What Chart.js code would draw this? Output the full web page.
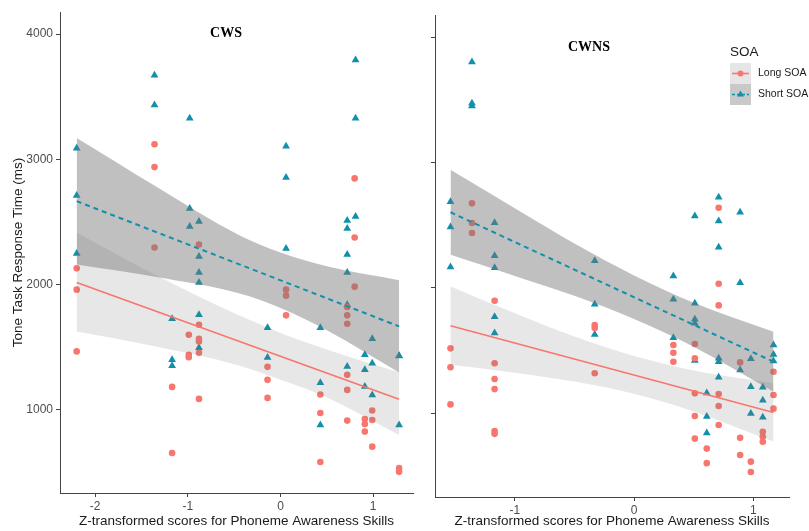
<!DOCTYPE html>
<html>
<head>
<meta charset="utf-8">
<script src="https://cdn.jsdelivr.net/npm/chart.js@4.4.0/dist/chart.umd.min.js"></script>
<style>
  body { margin: 0; background: #fff; }
  #wrap { position: relative; width: 809px; height: 531px; }
  canvas { position: absolute; top: 0; }
</style>
</head>
<body>
<div id="wrap">
  <canvas id="chart-cws" width="425" height="531" style="left:0"></canvas>
  <canvas id="chart-cwns" width="384" height="531" style="left:425px"></canvas>
</div>
<script>
// tick labels
const yTicks = [1000, 2000, 3000, 4000];
const cwsXTicks = [-2, -1, 0, 1];
const cwnsXTicks = [-1, 0, 1];
const seriesNames = ['Long SOA', 'Short SOA'];

// CWS panel: [z score, response time]
const cwsLong = [
  [-2.2,2130],[-2.2,1960],[-2.2,1467],
  [-1.36,3120],[-1.36,2938],[-1.36,2296],
  [-1.17,1184],[-1.17,656],
  [-0.99,1600],[-0.99,1440],[-0.99,1420],
  [-0.88,2320],[-0.88,1680],[-0.88,1568],[-0.88,1546],[-0.88,1456],[-0.88,1088],
  [-0.14,1344],[-0.14,1240],[-0.14,1096],
  [0.06,1960],[0.06,1912],[0.06,1755],
  [0.43,1123],[0.43,976],[0.43,584],
  [0.72,1822],[0.72,1755],[0.72,1688],[0.72,1280],[0.72,1160],[0.72,915],
  [0.80,2848],[0.80,2376],[0.80,1984],
  [0.91,928],[0.91,888],[0.91,827],
  [0.99,995],[0.99,920],[0.99,707],
  [1.28,536],[1.28,506]
];
const cwsShort = [
  [-2.2,3088],[-2.2,2712],[-2.2,2248],
  [-1.36,3672],[-1.36,3434],
  [-1.17,1728],[-1.17,1400],[-1.17,1352],
  [-0.98,3328],[-0.98,2608],[-0.98,2464],
  [-0.88,2504],[-0.88,2224],[-0.88,2096],[-0.88,2018],[-0.88,1760],[-0.88,1496],
  [-0.14,1656],[-0.14,1419],
  [0.06,3104],[0.06,2856],[0.06,2288],
  [0.43,1656],[0.43,1216],[0.43,880],
  [0.72,2512],[0.72,2448],[0.72,2240],[0.72,2096],[0.72,1840],[0.72,1347],
  [0.81,3792],[0.81,3328],[0.81,2544],
  [0.91,1440],[0.91,1320],[0.91,1187],
  [0.99,1568],[0.99,1373],[0.99,1120],
  [1.28,1432],[1.28,1430],[1.28,880]
];
// fitted lines and confidence bands (CWS)
const cwsFitX = [-2.2, 1.28];
const cwsLongFit = [2018, 1085];
const cwsShortFit = [2666, 1667];
const cwsBandX = [-2.2, -1.37, -0.45, 0, 0.5, 1.28];
const cwsShortUpper = [3170, 2795, 2397, 2256, 2146, 2035];
const cwsShortLower = [2160, 2065, 1931, 1814, 1636, 1299];
const cwsLongUpper = [2416, 2085, 1755, 1615, 1483, 1300];
const cwsLongLower = [1626, 1510, 1355, 1240, 1100, 800];

// CWNS panel
const cwnsLong = [
  [-1.54,1516],[-1.54,1365],[-1.54,1069],
  [-1.36,2673],[-1.36,2516],[-1.36,2436],
  [-1.17,1896],[-1.17,1397],[-1.17,1271],[-1.17,1191],[-1.17,856],[-1.17,834],
  [-0.33,1702],[-0.33,1678],[-0.33,1317],
  [0.33,1543],[0.33,1481],[0.33,1409],
  [0.51,1551],[0.51,1437],[0.51,1157],[0.51,976],[0.51,796],
  [0.61,716],[0.61,600],
  [0.71,2638],[0.71,2032],[0.71,1859],[0.71,1152],[0.71,1056],[0.71,904],
  [0.89,1404],[0.89,802],[0.89,665],
  [0.98,612],[0.98,530],
  [1.08,851],[1.08,811],[1.08,771],
  [1.17,1330],[1.17,1144],[1.17,1035]
];
const cwnsShort = [
  [-1.54,2686],[-1.54,2484],[-1.54,2165],
  [-1.36,3801],[-1.36,3471],[-1.36,3450],
  [-1.17,2519],[-1.17,2255],[-1.17,2160],[-1.17,1768],[-1.17,1638],
  [-0.33,2216],[-0.33,1868],[-0.33,1626],
  [0.33,2094],[0.33,1907],[0.33,1600],
  [0.51,2573],[0.51,1875],[0.51,1748],[0.51,1716],[0.51,1420],
  [0.61,1160],[0.61,973],[0.61,840],
  [0.71,2721],[0.71,2532],[0.71,2322],[0.71,1437],[0.71,1409],[0.71,1286],
  [0.89,2602],[0.89,2040],[0.89,1343],
  [0.98,1434],[0.98,1210],[0.98,997],
  [1.08,1206],[1.08,1101],[1.08,967],
  [1.17,1543],[1.17,1468],[1.17,1415]
];
const cwnsFitX = [-1.54, 1.17];
const cwnsLongFit = [1697, 1005];
const cwnsShortFit = [2602, 1409];
const cwnsBandX = [-1.54, -1, -0.5, 0, 0.5, 1.17];
const cwnsShortUpper = [2942, 2634, 2353, 2098, 1880, 1649];
const cwnsShortLower = [2262, 2094, 1935, 1750, 1528, 1169];
const cwnsLongUpper = [2009, 1796, 1611, 1455, 1340, 1238];
const cwnsLongLower = [1385, 1322, 1251, 1153, 1012, 772];

const SALMON = '#F8766D';
const TEAL = '#1190AB';
const SHORT_BAND = 'rgba(115,115,115,0.45)';
const LONG_BAND = 'rgba(115,115,115,0.17)';
const AXIS = '#444';

Chart.defaults.font.family = "'Liberation Sans', Arial, sans-serif";

function xy(xs, ys) { return xs.map((x, i) => ({ x: x, y: ys[i] })); }
function pts(a) { return a.map(p => ({ x: p[0], y: p[1] })); }

function panelDatasets(longPts, shortPts, fitX, longFit, shortFit, bandX, sUp, sLo, lUp, lLo) {
  const band = { type: 'line', borderWidth: 0, pointRadius: 0, cubicInterpolationMode: 'monotone', order: 1 };
  return [
    { type: 'line', label: seriesNames[1], data: xy(fitX, shortFit), borderColor: TEAL, borderWidth: 2,
      borderDash: [5, 4], pointRadius: 0, fill: false, order: 0 },
    { type: 'line', label: seriesNames[0], data: xy(fitX, longFit), borderColor: SALMON, borderWidth: 1.6,
      pointRadius: 0, fill: false, order: 0 },
    Object.assign({ data: xy(bandX, sUp), fill: '+1', backgroundColor: SHORT_BAND }, band),
    Object.assign({ data: xy(bandX, sLo), fill: false }, band),
    Object.assign({ data: xy(bandX, lUp), fill: '+1', backgroundColor: LONG_BAND }, band),
    Object.assign({ data: xy(bandX, lLo), fill: false }, band),
    { type: 'scatter', label: seriesNames[0], data: pts(longPts), pointStyle: 'circle', pointRadius: 3.3,
      backgroundColor: SALMON, borderWidth: 0, order: 2 },
    { type: 'scatter', label: seriesNames[1], data: pts(shortPts), pointStyle: 'triangle', pointRadius: 4.5,
      backgroundColor: TEAL, borderWidth: 0, order: 2 }
  ];
}

// draws panel title and (optionally) the SOA legend
const panelText = {
  id: 'panelText',
  afterDraw(chart, args, opts) {
    const ctx = chart.ctx;
    ctx.save();
    ctx.fillStyle = '#000';
    ctx.font = "bold 14px 'Liberation Serif', 'Times New Roman', serif";
    ctx.textAlign = 'center';
    ctx.textBaseline = 'middle';
    ctx.fillText(opts.title, opts.titleX, opts.titleY);
    if (opts.legend) {
      const lx = opts.legendX, ly = opts.legendY;
      ctx.textAlign = 'left';
      ctx.fillStyle = '#1a1a1a';
      ctx.font = "13.5px 'Liberation Sans', Arial, sans-serif";
      ctx.fillText('SOA', lx, ly);
      const keys = [
        { bg: '#e6e6e6', color: SALMON, dash: [], style: 'circle' },
        { bg: '#c9c9c9', color: TEAL, dash: [3, 2], style: 'triangle' }
      ];
      keys.forEach((k, i) => {
        const top = ly + 11 + i * 21;
        ctx.fillStyle = k.bg;
        ctx.fillRect(lx, top, 21, 21);
        const cy = top + 10.5;
        ctx.strokeStyle = k.color;
        ctx.lineWidth = 1.6;
        ctx.setLineDash(k.dash);
        ctx.beginPath();
        ctx.moveTo(lx + 2, cy);
        ctx.lineTo(lx + 19, cy);
        ctx.stroke();
        ctx.setLineDash([]);
        ctx.fillStyle = k.color;
        Chart.helpers.drawPoint(ctx, { pointStyle: k.style, radius: k.style === 'circle' ? 3 : 4, rotation: 0, borderWidth: 0 }, lx + 10.5, cy);
        ctx.fillStyle = '#1a1a1a';
        ctx.font = "10.5px 'Liberation Sans', Arial, sans-serif";
        ctx.fillText(seriesNames[i], lx + 28, cy);
      });
    }
    ctx.restore();
  }
};

function axisX(min, max, tickList, height) {
  return {
    type: 'linear', min: min, max: max,
    afterBuildTicks: s => { s.ticks = tickList.map(v => ({ value: v })); },
    afterFit: s => { s.height = height; },
    grid: { drawOnChartArea: false, tickLength: 4, color: AXIS },
    border: { color: AXIS, width: 1 },
    ticks: { color: '#4d4d4d', font: { size: 12 }, padding: 2, maxRotation: 0, callback: v => String(v) },
    title: { display: true, text: 'Z-transformed scores for Phoneme Awareness Skills', color: '#1a1a1a',
      font: { size: 13.5 }, padding: { top: 2, bottom: 2 } }
  };
}

function axisY(min, max, width, showLabels) {
  return {
    type: 'linear', min: min, max: max,
    afterBuildTicks: s => { s.ticks = yTicks.map(v => ({ value: v })); },
    afterFit: s => { s.width = width; },
    grid: { drawOnChartArea: false, tickLength: 4, color: AXIS },
    border: { color: AXIS, width: 1 },
    ticks: { display: showLabels, color: '#4d4d4d', font: { size: 12 }, padding: 3, callback: v => String(v) },
    title: { display: showLabels, text: 'Tone Task Response Time (ms)', color: '#1a1a1a',
      font: { size: 13.5 }, padding: { top: 10, bottom: 0 } }
  };
}

new Chart(document.getElementById('chart-cws'), {
  type: 'scatter',
  data: { datasets: panelDatasets(cwsLong, cwsShort, cwsFitX, cwsLongFit, cwsShortFit,
    cwsBandX, cwsShortUpper, cwsShortLower, cwsLongUpper, cwsLongLower) },
  options: {
    responsive: false, animation: false, events: [],
    layout: { padding: { top: 12, right: 12, left: 0, bottom: 0 } },
    scales: { x: axisX(-2.38, 1.43, cwsXTicks, 38), y: axisY(337, 4176, 60, true) },
    plugins: {
      legend: { display: false }, tooltip: { enabled: false },
      panelText: { title: 'CWS', titleX: 226, titleY: 33, legend: false }
    }
  },
  plugins: [panelText]
});

new Chart(document.getElementById('chart-cwns'), {
  type: 'scatter',
  data: { datasets: panelDatasets(cwnsLong, cwnsShort, cwnsFitX, cwnsLongFit, cwnsShortFit,
    cwnsBandX, cwnsShortUpper, cwnsShortLower, cwnsLongUpper, cwnsLongLower) },
  options: {
    responsive: false, animation: false, events: [],
    layout: { padding: { top: 15, right: 20, left: 0, bottom: 0 } },
    scales: { x: axisX(-1.67, 1.30, cwnsXTicks, 34), y: axisY(330, 4176, 10, false) },
    plugins: {
      legend: { display: false }, tooltip: { enabled: false },
      panelText: { title: 'CWNS', titleX: 164, titleY: 47, legend: true, legendX: 305, legendY: 52 }
    }
  },
  plugins: [panelText]
});
</script>
</body>
</html>
